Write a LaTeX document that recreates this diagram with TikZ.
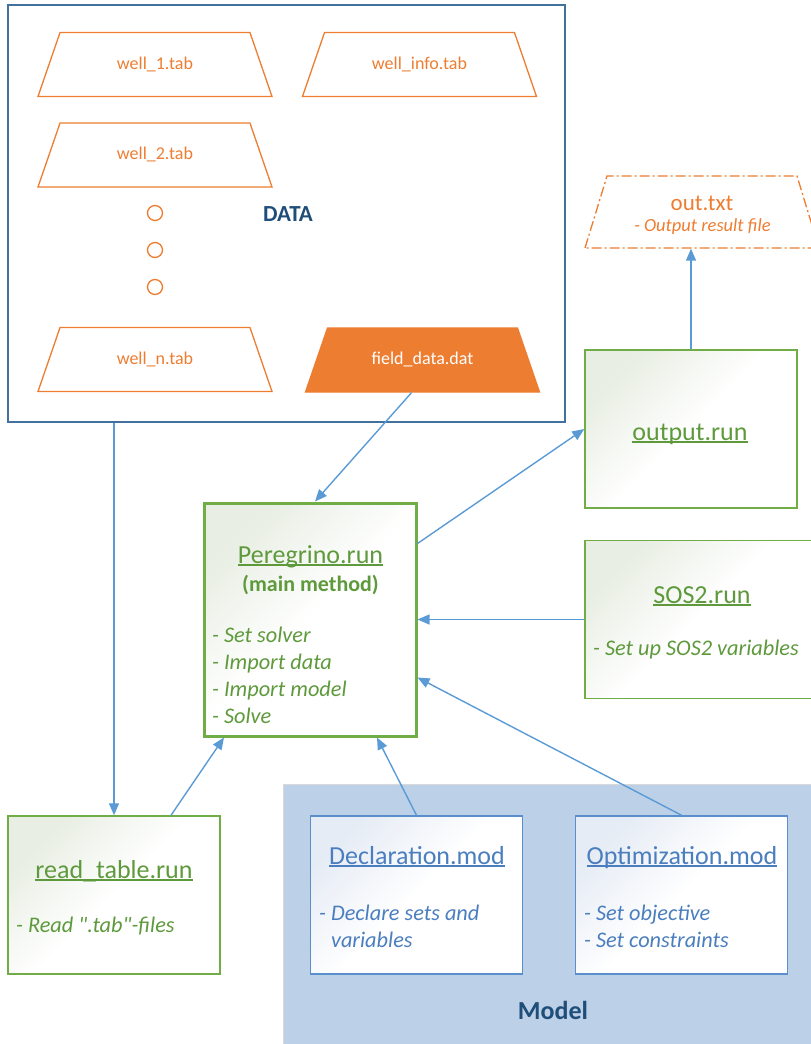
\documentclass[tikz,border=0pt]{standalone}
\usepackage{fontspec}
\setmainfont{Carlito}[Ligatures=TeXOff]
\usetikzlibrary{arrows.meta, positioning, shapes.geometric}

\definecolor{fileorange}{HTML}{ED7D31}
\definecolor{linkblue}{HTML}{5B9BD5}
\definecolor{databorder}{HTML}{41719C}
\definecolor{titleblue}{HTML}{1F4E79}
\definecolor{rungreen}{HTML}{70AD47}
\definecolor{runtext}{HTML}{5E9A3C}
\definecolor{runshade}{HTML}{E8EEE3}
\definecolor{modfill}{HTML}{BCD0E8}
\definecolor{modborder}{HTML}{5A8FCB}
\definecolor{modtext}{HTML}{4A7EBF}
\definecolor{modshade}{HTML}{E6ECF5}

\newcommand{\undertext}[1]{\setbox0\hbox{#1}\rlap{\rule[-2.5pt]{\wd0}{1.3pt}}\box0}

\begin{document}
\begin{tikzpicture}[x=1pt, y=-1pt,
        file/.style={trapezium, trapezium left angle=71, trapezium right angle=71,
            trapezium stretches body, minimum width=234pt, text height=13pt, text depth=4pt,
            inner xsep=0pt, inner ysep=23.5pt, draw=fileorange, line width=1.3pt, text=fileorange,
            font=\fontsize{18}{20}\selectfont},
        gapdot/.style={circle, draw=fileorange, line width=1.3pt, minimum size=15pt, inner sep=0pt},
        runbox/.style={draw=rungreen, line width=1.5pt, minimum width=212pt, minimum height=158pt,
            inner sep=0pt, top color=runshade, bottom color=white, middle color=white, shading angle=45},
        modbox/.style={draw=modborder, line width=1.5pt, minimum width=212pt, minimum height=158pt,
            inner sep=0pt, top color=modshade, bottom color=white, middle color=white, shading angle=45},
        runtitle/.style={anchor=base, inner sep=0pt, font=\fontsize{26}{30}\selectfont},
        runnote/.style={anchor=west, align=left, inner sep=0pt, font=\fontsize{22.3}{27}\selectfont\itshape},
        arrow/.style={-{Triangle[length=12pt, width=10pt]}, line width=1.4pt, draw=linkblue}
    ]
        \useasboundingbox (0,0) rectangle (811,1044);

        % Data files
        \node[draw=databorder, line width=1.5pt, minimum width=557pt, minimum height=417pt, inner sep=0pt] (data) at (286.5,213.5) {};
        \node[font=\fontsize{23}{25}\selectfont\bfseries, text=titleblue] (datalabel) at (288,214) {DATA};
        \node[file] (well1) at (155,64.5) {well\_1.tab};
        \node[file] (wellinfo) at (419.5,64.5) {well\_info.tab};
        \node[file] (well2) at (155,155) {well\_2.tab};
        \node[gapdot] (gap1) at (155,213) {};
        \node[gapdot] (gap2) at (155,250) {};
        \node[gapdot] (gap3) at (155,287) {};
        \node[file] (welln) at (155,359.5) {well\_n.tab};
        \node[file, fill=fileorange, text=white] (field) at (422.5,360) {field\_data.dat};

        % Output file
        \node[file, inner ysep=27.5pt, trapezium left angle=73, trapezium right angle=73,
            dash pattern=on 10pt off 3pt on 2pt off 3pt] (outtxt) at (702,212) {};
        \node[text=fileorange, font=\fontsize{23}{25}\selectfont] (outname) at (702,203) {out.txt};
        \node[text=fileorange, font=\fontsize{18.5}{20}\selectfont\itshape] (outnote) at (702.5,227) {- Output result file};

        % Run files
        \node[runbox] (output) at (691,429) {};
        \node[runtitle, text=runtext] (outputtitle) at (690,440) {\undertext{output.run}};

        \node[runbox, minimum height=233pt, line width=3pt] (peregrino) at (310,619.5) {};
        \node[runtitle, text=runtext] (peregrinotitle) at (310.5,563) {\undertext{Peregrino.run}};
        \node[text=runtext, inner sep=0pt, font=\fontsize{22}{26}\selectfont\bfseries] (peregrinomain) at (310.5,585) {(main method)};
        \node[runnote, text=runtext] (peregrinonote) at (212,675) {- Set solver\\- Import data\\- Import model\\- Solve};

        \node[runbox, minimum width=227pt] (sos2) at (698.5,619.5) {};
        \node[runtitle, text=runtext] (sos2title) at (702,603) {\undertext{SOS2.run}};
        \node[runnote, text=runtext] (sos2note) at (593,650) {- Set up SOS2 variables};

        \node[runbox] (readtable) at (114,895) {};
        \node[runtitle, text=runtext] (readtabletitle) at (114,878) {\undertext{read\_table.run}};
        \node[runnote, text=runtext] (readtablenote) at (16,926) {- Read ".tab"-files};

        % Model
        \node[anchor=north west, fill=modfill, draw=black!15, line width=1pt, minimum width=535pt, minimum height=270pt, inner sep=0pt] (model) at (283,784) {};
        \node[font=\fontsize{26}{30}\selectfont\bfseries, text=titleblue] (modellabel) at (553,1010) {Model};

        \node[modbox] (declaration) at (416.5,895) {};
        \node[runtitle, text=modtext] (declarationtitle) at (417,864) {\undertext{Declaration.mod}};
        \node[runnote, text=modtext] (declarationnote) at (319,926) {- Declare sets and\\\hphantom{- }variables};

        \node[modbox] (optimization) at (681.5,895) {};
        \node[runtitle, text=modtext] (optimizationtitle) at (682,864) {\undertext{Optimization.mod}};
        \node[runnote, text=modtext] (optimizationnote) at (584,926) {- Set objective\\- Set constraints};

        % Arrows
        \draw[arrow] (readtable.north |- data.south) -- (readtable.north);
        \draw[arrow] ([xshift=-11pt]field.south) -- ([xshift=5pt]peregrino.north);
        \draw[arrow] ([yshift=76pt]peregrino.east) -- (output.west);
        \draw[arrow] (output.north) -- (output.north |- outtxt.south);
        \draw[arrow] (sos2.west) -- (peregrino.east);
        \draw[arrow] (optimization.north) -- ([yshift=-58pt]peregrino.east);
        \draw[arrow] (declaration.north) -- ([xshift=67pt]peregrino.south);
        \draw[arrow] ([xshift=57pt]readtable.north) -- ([xshift=-86pt]peregrino.south);
    \end{tikzpicture}
\end{document}
